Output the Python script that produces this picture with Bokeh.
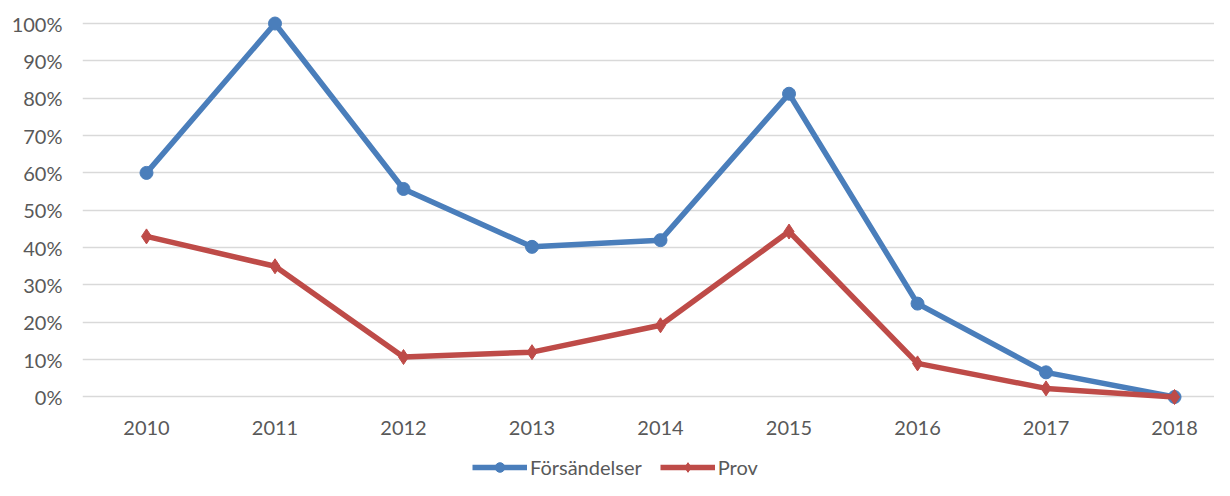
from bokeh.plotting import figure
from bokeh.models import Range1d, FixedTicker, NumeralTickFormatter, Legend, LegendItem
from bokeh.core.properties import value
from bokeh.embed import file_html
from bokeh.resources import INLINE

years = ["2010", "2011", "2012", "2013", "2014", "2015", "2016", "2017", "2018"]
forsandelser = [0.60, 1.00, 0.557, 0.402, 0.420, 0.812, 0.250, 0.066, 0.0]
prov = [0.430, 0.350, 0.107, 0.120, 0.192, 0.443, 0.090, 0.023, 0.0]
y_ticks = [0.0, 0.1, 0.2, 0.3, 0.4, 0.5, 0.6, 0.7, 0.8, 0.9, 1.0]

xs = list(range(len(years)))

BLUE = "#4A7EBB"
RED = "#BE4B48"
TXT = "#595959"
FONT = "Lato"

p = figure(width=1214, height=480, output_backend="svg", toolbar_location=None,
           x_range=Range1d(-0.498, 8.311), y_range=Range1d(-0.2236, 1.0295),
           min_border_left=82, min_border_right=0, min_border_top=12, min_border_bottom=0)
p.outline_line_color = None
p.background_fill_color = "white"
p.border_fill_color = "white"

# y axis
p.yaxis.ticker = FixedTicker(ticks=y_ticks)
p.yaxis.formatter = NumeralTickFormatter(format="0%")
p.yaxis.axis_line_color = None
p.yaxis.major_tick_line_color = None
p.yaxis.minor_tick_line_color = None
p.yaxis.major_tick_out = 0
p.yaxis.major_tick_in = 0
p.yaxis.major_label_text_font = FONT
p.yaxis.major_label_text_font_size = "20px"
p.yaxis.major_label_text_color = TXT
p.yaxis.major_label_standoff = 20

# category labels (x axis)
p.xaxis.visible = False
label_y = -0.0843
p.text(xs, [label_y] * len(xs), text=years, text_font=value(FONT),
       text_font_size=value("20px"), text_color=TXT,
       text_align="center", text_baseline="middle")

p.xgrid.grid_line_color = None
p.ygrid.ticker = FixedTicker(ticks=y_ticks)
p.ygrid.grid_line_color = "#D9D9D9"
p.ygrid.grid_line_width = 1.6

l1 = p.line(xs, forsandelser, line_color=BLUE, line_width=5.5)
m1 = p.scatter(xs, forsandelser, marker="circle", size=13, fill_color=BLUE, line_color=BLUE)
l2 = p.line(xs, prov, line_color=RED, line_width=5.5)
m2 = p.scatter(xs, prov, marker="diamond", size=15, fill_color=RED, line_color=RED)

legend = Legend(items=[LegendItem(label="Försändelser", renderers=[l1, m1]),
                       LegendItem(label="Prov", renderers=[l2, m2])],
                orientation="horizontal", location=(390, 1),
                glyph_width=55, glyph_height=24, label_standoff=3, spacing=18,
                padding=0, margin=0, border_line_color=None, background_fill_alpha=0,
                label_text_font=FONT, label_text_font_size="20px", label_text_color=TXT)
p.add_layout(legend, "center")

open("out.html", "w").write(file_html(p, INLINE))
